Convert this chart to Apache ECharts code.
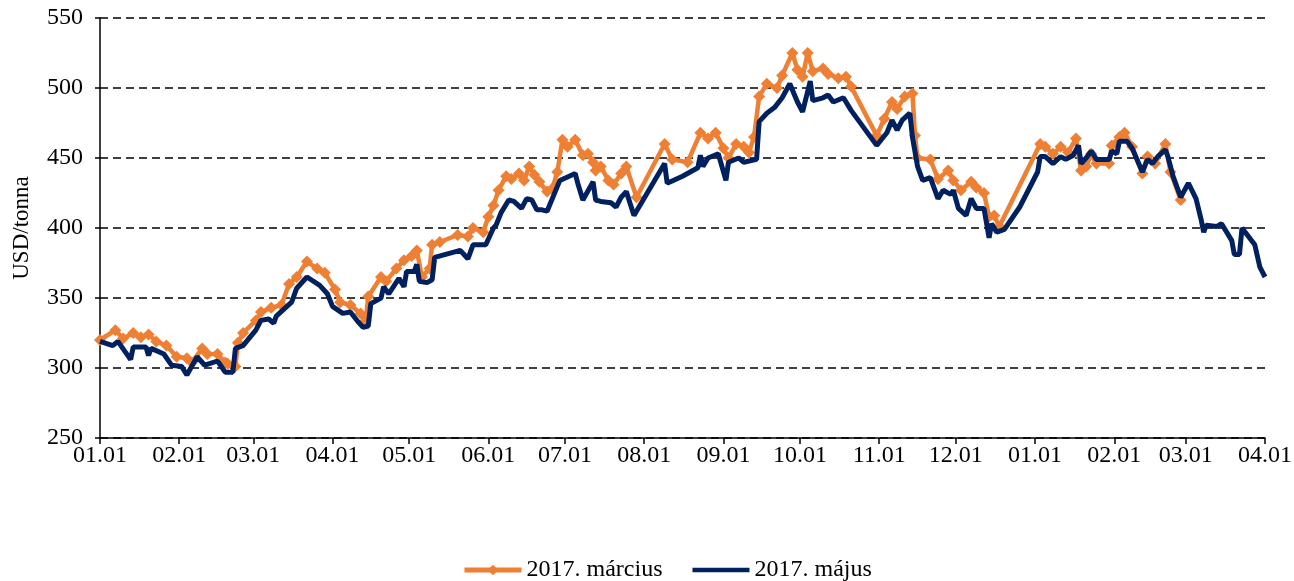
<!DOCTYPE html>
<html><head><meta charset="utf-8">
<script src="https://cdn.jsdelivr.net/npm/echarts@6/dist/echarts.min.js"></script>
<style>html,body{margin:0;padding:0;background:#fff}#c{width:1294px;height:581px}</style>
</head><body><div id="c"></div>
<script>
const seriesNames = ['2017. március', '2017. május'];
const yTicks = [250, 300, 350, 400, 450, 500, 550];

const marDates = ['2016-01-01','2016-01-07','2016-01-10','2016-01-14','2016-01-17','2016-01-20','2016-01-23','2016-01-27','2016-01-31','2016-02-04','2016-02-06','2016-02-10','2016-02-12','2016-02-16','2016-02-19','2016-02-20','2016-02-23','2016-02-24','2016-02-26','2016-03-02','2016-03-04','2016-03-08','2016-03-12','2016-03-15','2016-03-18','2016-03-22','2016-03-26','2016-03-29','2016-04-02','2016-04-04','2016-04-08','2016-04-12','2016-04-14','2016-04-15','2016-04-20','2016-04-22','2016-04-26','2016-04-29','2016-05-02','2016-05-04','2016-05-06','2016-05-09','2016-05-10','2016-05-13','2016-05-20','2016-05-24','2016-05-26','2016-05-30','2016-06-01','2016-06-03','2016-06-05','2016-06-08','2016-06-10','2016-06-13','2016-06-15','2016-06-17','2016-06-19','2016-06-21','2016-06-24','2016-06-26','2016-06-28','2016-06-30','2016-07-02','2016-07-05','2016-07-08','2016-07-10','2016-07-12','2016-07-13','2016-07-15','2016-07-18','2016-07-20','2016-07-23','2016-07-25','2016-07-29','2016-08-09','2016-08-12','2016-08-18','2016-08-23','2016-08-26','2016-08-29','2016-09-01','2016-09-03','2016-09-06','2016-09-09','2016-09-11','2016-09-13','2016-09-15','2016-09-18','2016-09-22','2016-09-24','2016-09-28','2016-09-30','2016-10-02','2016-10-04','2016-10-06','2016-10-10','2016-10-12','2016-10-16','2016-10-19','2016-10-21','2016-10-31','2016-11-03','2016-11-06','2016-11-08','2016-11-11','2016-11-14','2016-11-15','2016-11-16','2016-11-21','2016-11-24','2016-11-28','2016-11-30','2016-12-03','2016-12-07','2016-12-09','2016-12-12','2016-12-14','2016-12-16','2016-12-18','2017-01-03','2017-01-05','2017-01-08','2017-01-11','2017-01-14','2017-01-17','2017-01-19','2017-01-21','2017-01-23','2017-01-25','2017-01-30','2017-01-31','2017-02-03','2017-02-05','2017-02-08','2017-02-12','2017-02-14','2017-02-17','2017-02-21','2017-02-23','2017-02-27'];
const marValues = [320,327,321,325,322,324,319,316,308,307,304,314,310,310,304,303,301,318,325,334,340,343,345,360,365,376,371,368,356,347,345,339,334,351,365,362,371,377,380,384,365,371,388,390,395,394,400,397,408,416,427,437,435,439,434,444,438,433,426,428,440,463,458,463,452,453,447,441,444,434,431,439,444,422,460,449,447,468,464,468,457,450,460,458,454,465,494,503,500,509,525,513,508,525,512,514,510,507,508,501,466,478,490,485,494,496,466,450,449,435,441,434,427,433,429,425,408,409,401,460,458,453,458,454,464,441,444,453,446,446,459,465,468,458,439,451,446,460,440,420];

const majDates = ['2016-01-01','2016-01-06','2016-01-08','2016-01-13','2016-01-14','2016-01-19','2016-01-20','2016-01-21','2016-01-26','2016-01-29','2016-02-02','2016-02-04','2016-02-08','2016-02-11','2016-02-16','2016-02-19','2016-02-22','2016-02-23','2016-02-26','2016-03-02','2016-03-04','2016-03-07','2016-03-09','2016-03-10','2016-03-16','2016-03-18','2016-03-22','2016-03-27','2016-03-30','2016-04-01','2016-04-05','2016-04-08','2016-04-11','2016-04-13','2016-04-15','2016-04-16','2016-04-20','2016-04-21','2016-04-23','2016-04-27','2016-04-29','2016-04-30','2016-05-03','2016-05-04','2016-05-05','2016-05-08','2016-05-10','2016-05-11','2016-05-21','2016-05-24','2016-05-26','2016-05-31','2016-06-03','2016-06-04','2016-06-06','2016-06-09','2016-06-11','2016-06-14','2016-06-16','2016-06-18','2016-06-20','2016-06-22','2016-06-24','2016-06-29','2016-07-05','2016-07-06','2016-07-08','2016-07-12','2016-07-13','2016-07-15','2016-07-19','2016-07-21','2016-07-23','2016-07-25','2016-07-28','2016-08-09','2016-08-10','2016-08-16','2016-08-22','2016-08-23','2016-08-24','2016-08-26','2016-08-30','2016-09-02','2016-09-03','2016-09-07','2016-09-09','2016-09-14','2016-09-15','2016-09-18','2016-09-21','2016-09-24','2016-09-27','2016-09-30','2016-10-02','2016-10-05','2016-10-06','2016-10-10','2016-10-12','2016-10-14','2016-10-18','2016-10-21','2016-10-31','2016-11-04','2016-11-06','2016-11-08','2016-11-10','2016-11-13','2016-11-14','2016-11-16','2016-11-18','2016-11-21','2016-11-24','2016-11-26','2016-11-29','2016-11-30','2016-12-02','2016-12-05','2016-12-07','2016-12-09','2016-12-12','2016-12-14','2016-12-15','2016-12-17','2016-12-20','2016-12-26','2017-01-02','2017-01-03','2017-01-05','2017-01-08','2017-01-11','2017-01-13','2017-01-16','2017-01-18','2017-01-19','2017-01-21','2017-01-23','2017-01-25','2017-01-30','2017-01-31','2017-02-02','2017-02-03','2017-02-06','2017-02-08','2017-02-12','2017-02-14','2017-02-16','2017-02-18','2017-02-21','2017-02-22','2017-02-24','2017-02-27','2017-03-02','2017-03-05','2017-03-07','2017-03-08','2017-03-09','2017-03-13','2017-03-15','2017-03-19','2017-03-20','2017-03-22','2017-03-23','2017-03-28','2017-03-30','2017-04-01'];
const majValues = [319,316,319,306,315,315,309,314,310,302,301,295,308,302,305,297,297,314,316,327,334,335,332,337,347,357,365,359,353,344,339,340,333,329,330,346,350,358,353,364,358,369,369,374,362,361,363,379,384,378,388,388,400,402,411,420,419,414,421,420,413,413,412,434,439,432,420,433,420,419,418,415,422,426,409,446,432,437,443,452,444,450,453,434,447,450,447,449,476,482,486,493,503,490,483,505,491,493,495,490,493,484,459,468,477,470,477,482,465,444,434,436,421,427,424,427,414,409,421,414,414,393,403,397,399,415,440,451,451,446,451,449,452,459,446,450,455,449,449,455,453,462,462,457,440,449,446,451,456,451,437,422,432,421,406,397,402,401,403,391,381,381,400,388,372,365];

const toPairs = (d, v) => d.map((x, i) => [x, v[i]]);
const pad = n => (n < 10 ? '0' : '') + n;
const FONT = '"Liberation Serif", "Times New Roman", serif';
const FS = 24;

const chart = echarts.init(document.getElementById('c'), null, {renderer: 'canvas'});
chart.setOption({
  animation: false,
  backgroundColor: '#fff',
  textStyle: {fontFamily: FONT, color: '#000'},
  grid: {left: 100, right: 29, top: 18, bottom: 143, containLabel: false, outerBoundsMode: 'none'},
  legend: {
    top: 553, left: 457, itemGap: 30, itemWidth: 57, itemHeight: 13,
    textStyle: {fontFamily: FONT, fontSize: FS, color: '#000'},
    data: [
      {name: seriesNames[0], lineStyle: {width: 5, color: '#EE7F33'}},
      {name: seriesNames[1], icon: 'path://M0,0L0.05,0L0,0.05Z M0,13L0.05,13L0,12.95Z M0,4.3L57,4.3L57,8.7L0,8.7Z'}
    ]
  },
  xAxis: {
    type: 'time',
    min: '2016-01-01', max: '2017-04-01',
    minInterval: 28 * 86400000, maxInterval: 31 * 86400000,
    axisLine: {lineStyle: {color: '#000', width: 1.5}},
    axisTick: {show: true, length: 6, lineStyle: {color: '#000', width: 1.5}},
    splitLine: {show: false},
    axisLabel: {
      color: '#000', fontFamily: FONT, fontSize: FS, margin: 6, hideOverlap: false,
      showMinLabel: true, showMaxLabel: true,
      formatter: function (val) { const d = new Date(val); return pad(d.getMonth() + 1) + '.' + pad(d.getDate()); }
    }
  },
  yAxis: {
    type: 'value', min: yTicks[0], max: yTicks[yTicks.length - 1], interval: 50,
    name: 'USD/tonna', nameLocation: 'middle', nameGap: 67, nameRotate: 90,
    nameTextStyle: {fontFamily: FONT, fontSize: 23, color: '#000'},
    axisLine: {show: true, lineStyle: {color: '#000', width: 1.5}},
    axisTick: {show: true, inside: false, length: 5, lineStyle: {color: '#000', width: 1.5}},
    axisLabel: {color: '#000', fontFamily: FONT, fontSize: FS, margin: 17},
    splitLine: {show: true, lineStyle: {color: '#000', type: [8, 5], width: 1.5}}
  },
  series: [
    {
      name: seriesNames[0], type: 'line', data: toPairs(marDates, marValues),
      symbol: 'diamond', symbolSize: 12, showAllSymbol: true,
      lineStyle: {color: '#EE7F33', width: 4.5},
      itemStyle: {color: '#EE7F33', borderWidth: 0},
      z: 2
    },
    {
      name: seriesNames[1], type: 'line', data: toPairs(majDates, majValues),
      symbol: 'none', showSymbol: false,
      lineStyle: {color: '#002060', width: 5},
      itemStyle: {color: '#002060'},
      z: 3
    }
  ]
});
</script>
</body></html>
